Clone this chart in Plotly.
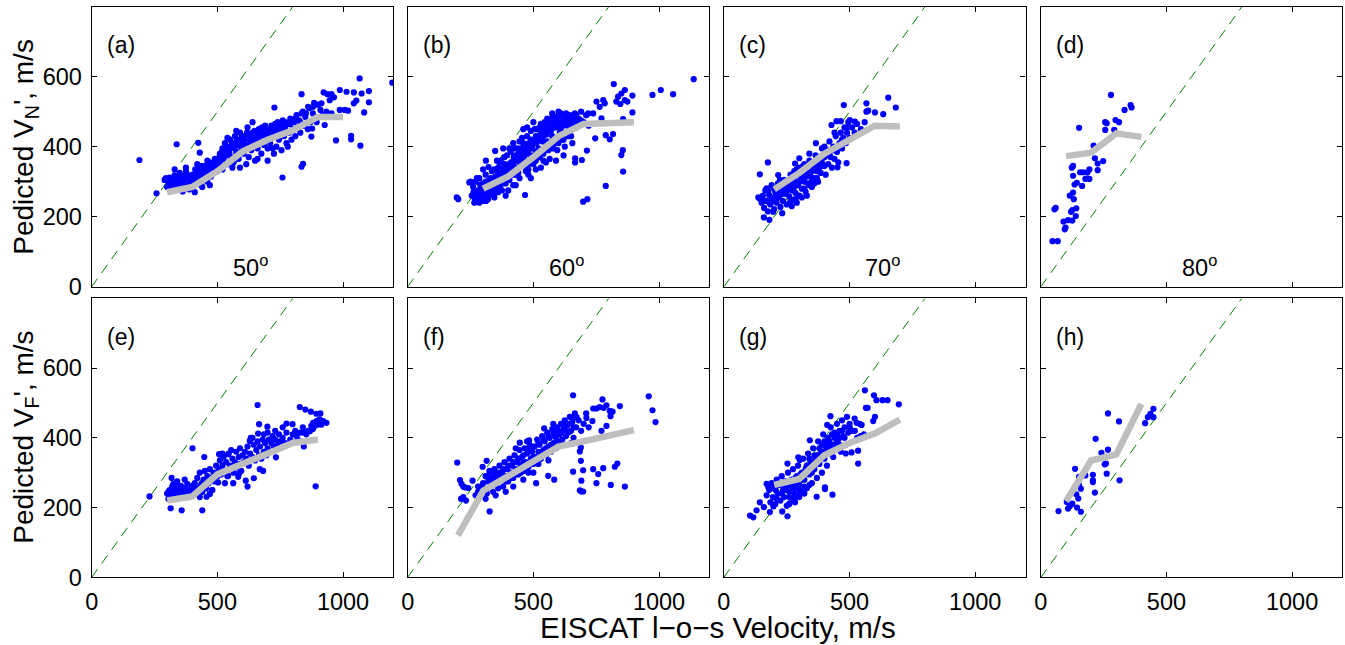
import plotly.graph_objects as go

# ---------------- data ----------------
panel_letters = ["(a)", "(b)", "(c)", "(d)", "(e)", "(f)", "(g)", "(h)"]
angle_labels = ["50", "60", "70", "80"]
x_ticks = [0, 500, 1000]
y_ticks = [0, 200, 400, 600]

# binned means (grey curves)
mean_a_x = [300, 400, 500, 600, 700, 800, 900, 1000]
mean_a_y = [270, 285, 330, 386, 420, 447, 485, 485]
mean_b_x = [300, 400, 500, 600, 700, 800, 900]
mean_b_y = [280, 315, 370, 430, 465, 467, 470]
mean_c_x = [200, 300, 400, 500, 600, 700]
mean_c_y = [278, 325, 380, 420, 460, 458]
mean_d_x = [100, 200, 300, 400]
mean_d_y = [373, 383, 438, 428]
mean_e_x = [300, 400, 500, 600, 700, 800, 900]
mean_e_y = [220, 232, 295, 325, 355, 385, 395]
mean_f_x = [200, 300, 400, 500, 600, 700, 800, 900]
mean_f_y = [120, 248, 290, 332, 375, 390, 405, 422]
mean_g_x = [200, 300, 400, 500, 600, 700]
mean_g_y = [265, 282, 350, 385, 412, 452]
mean_h_x = [100, 200, 300, 400]
mean_h_y = [218, 335, 352, 497]

pts_a = [
    (190,362),(258,267),(338,407),(424,411),(430,383),(1066,595),(1196,583),(1103,559),(1103,527),
    (1084,498),(1069,403),(1032,431),(1032,421),(972,418),(835,550),(727,512),(759,312),(835,343),
    (841,351),(1014,557),(1043,555),(987,562),(923,555),(938,550),(954,550),(1074,552),(1043,524),
    (1053,532),(1007,505),(1020,503),(987,505),(954,495),(934,500),(914,524),(947,533),(964,541),
    (927,462),(874,429),(877,452),(881,514),(861,514),(852,495),(835,495),
    (305,300),(310,312),(315,290),(320,305),(325,285),(330,318),(335,298),(340,310),(345,290),
    (350,325),(355,300),(360,282),(365,312),(370,295),(375,330),(380,305),(385,288),(390,318),
    (395,300),(300,285),(318,275),(342,278),(362,272),(388,278),(295,310),(290,305),(330,335),(375,340),
    (405,310),(410,295),(415,325),(420,300),(425,340),(430,315),(435,290),(440,330),(445,305),
    (450,345),(455,320),(460,300),(465,335),(470,355),(475,315),(480,340),(485,325),(490,365),
    (495,345),(500,330),(410,270),(440,285),(470,290),(420,350),(460,360),
    (505,360),(510,380),(515,345),(520,395),(525,365),(530,410),(535,375),(540,350),(545,390),
    (550,420),(555,370),(560,400),(565,355),(570,430),(575,385),(580,405),(585,365),(590,440),
    (595,395),(600,415),(520,335),(560,340),(590,340),(540,425),(575,445),
    (605,380),(610,430),(615,400),(620,455),(625,370),(630,420),(635,390),(640,440),(645,410),
    (650,360),(655,430),(660,395),(665,450),(670,415),(675,380),(680,440),(685,405),(690,460),
    (695,425),(700,395),(615,350),(660,365),(640,470),(700,360),
    (705,440),(710,410),(715,460),(720,395),(725,430),(730,450),(735,400),(740,470),(745,420),
    (750,445),(755,390),(760,475),(765,430),(770,455),(775,410),(780,465),(785,440),(790,480),
    (795,420),(800,450),(725,380),(780,400),
    (805,470),(810,430),(815,490),(820,455),(825,475),(830,440),(840,500),(845,460),(850,485),
    (860,450),(865,510),(870,470),(880,495),(890,480),(900,520),(895,470),(885,525),(910,505),(920,490),
    (322,295),(332,305),(348,300),(358,318),(368,302),(378,318),(392,310),(402,320),(412,335),
    (428,325),(438,345),(448,330),(458,345),(468,322),(478,352),(488,340),(498,355),(508,370),
    (518,385),(528,380),(538,400),(548,380),(558,410),(568,395),(578,420),(588,410),(598,430),
    (608,415),(618,440),(628,405),(638,425),(648,445),(658,420),(668,430),(678,455),(688,430),
    (698,445),(708,425),(718,445),(728,440),(738,455),(748,430),(758,460),(768,445),
    (310,295),(330,290),(350,310),(370,310),(390,305),(410,315),(430,330),(450,320),(470,345),
    (490,350),(510,355),(530,390),(550,395),(570,410),(590,420),(610,405),(630,435),(650,440),
    (670,445),(690,445),(710,450),(730,465),(750,460),(770,470),(790,465),(810,480),(830,470),
]

pts_b = [
    (195,255),(201,250),(245,298),(311,360),(348,388),(406,393),(467,262),(575,483),(698,243),
    (715,250),(788,288),(857,329),(850,376),(856,390),(804,421),(788,433),(817,436),(746,424),
    (713,389),(666,355),(666,367),(693,362),(820,579),(974,548),(1007,562),(1056,550),(1138,593),
    (894,498),(857,479),(874,529),(894,546),(837,543),(864,562),(850,552),(830,529),(846,522),
    (864,533),(751,529),(778,533),(784,524),(764,514),(771,481),(738,495),(718,495),
    (255,260),(260,285),(265,240),(270,300),(275,265),(280,250),(285,310),(290,275),(295,245),
    (300,295),(305,260),(310,320),(315,280),(320,250),(325,305),(330,270),(335,330),(340,290),
    (345,255),(350,315),(262,270),(288,292),(312,245),(338,262),(275,310),(300,335),(250,300),(322,342),
    (355,285),(360,340),(365,300),(370,360),(375,275),(380,320),(385,350),(390,295),(395,375),
    (400,330),(405,305),(410,385),(415,345),(420,290),(425,365),(430,320),(435,395),(440,340),
    (445,310),(450,380),(360,270),(400,275),(430,290),(380,395),(420,410),(445,415),(355,360),(390,260),
    (455,345),(460,410),(465,375),(470,330),(475,430),(480,390),(485,355),(490,445),(495,400),
    (500,365),(505,420),(510,335),(515,450),(520,395),(525,370),(530,465),(535,415),(540,380),
    (545,440),(550,355),(460,450),(480,320),(500,470),(530,340),(545,470),(510,385),(490,310),
    (555,415),(560,470),(565,395),(570,445),(575,430),(580,480),(585,410),(590,455),(595,390),
    (600,470),(605,440),(610,495),(615,420),(620,460),(625,400),(630,480),(640,445),(645,490),
    (650,430),(660,470),(665,495),(670,455),(680,480),(690,500),(700,470),(710,490),(720,460),
    (565,365),(590,360),(620,375),(655,410),(600,500),
    (265,255),(285,265),(295,280),(305,285),(318,295),(328,285),(340,310),(352,300),(362,320),
    (372,310),(382,340),(392,330),(402,350),(412,340),(422,370),(432,360),(442,380),(452,365),
    (462,390),(472,380),(482,410),(492,395),(502,420),(512,410),(522,430),(532,420),(542,450),
    (552,435),(562,450),(572,460),(582,455),(592,475),(602,460),(612,470),(622,485),(632,465),
    (642,475),(652,470),(662,485),(672,475),(345,335),(365,355),(385,370),(405,395),(425,395),
    (455,425),(475,455),(505,450),(525,455),(555,480),(575,495),(285,240),(305,245),(330,290),
    (350,270),(370,290),(390,310),(410,320),(430,340),(450,350),(470,360),(490,375),(510,360),
    (530,390),(550,400),(570,410),(590,420),(610,445),(630,430),(650,450),(420,330),(440,360),
    (460,370),(480,350),
    (280,275),(290,290),(300,275),(310,300),(320,285),(330,310),(340,300),(350,295),(360,325),
    (370,320),(380,335),(390,345),(400,340),(410,355),(420,350),(430,375),(440,370),(450,395),
    (460,385),(470,405),(480,400),(490,420),(500,410),(510,430),(520,420),(530,440),(540,430),
    (550,455),(560,445),(570,470),(580,465),(590,485),(600,480),(610,460),(620,470),(630,495),
    (640,460),(650,485),(660,455),(670,490),(680,465),(690,475),
    (300,255),(320,265),(340,275),(360,285),(380,300),(400,310),(420,320),(440,325),(460,345),
    (480,335),(500,350),(520,375),(540,360),(560,390),(580,395),(600,410),(620,420),(640,430),
]

pts_c = [
    (175,355),(143,321),(137,255),(143,251),(159,198),(181,191),(232,210),(196,214),(477,519),
    (567,524),(654,540),(684,512),(634,493),(601,498),(567,500),(574,503),(521,472),(501,476),
    (448,473),(465,473),(428,462),(488,353),(452,341),(366,410),(300,367),(283,352),(216,319),
    (223,305),(170,281),(177,274),
    (150,240),(155,260),(160,225),(165,275),(170,245),(175,215),(180,262),(185,235),(190,290),
    (195,250),(200,222),(205,270),(210,240),(215,295),(220,255),(225,228),(230,280),(235,245),
    (240,305),(245,265),(250,235),(255,290),(260,258),(265,320),(270,275),(275,248),(280,305),
    (285,268),(290,335),(295,290),(300,260),(305,315),(310,280),(315,345),(320,300),(325,272),
    (330,330),(335,295),(340,360),(345,315),(350,285),(355,345),(360,310),(365,375),(370,330),
    (375,300),(380,360),(385,325),(390,395),(395,345),(400,370),(405,320),(410,390),(415,350),
    (420,415),(425,370),(430,340),(435,400),(440,365),(445,430),(450,385),(455,355),(460,410),
    (465,440),(470,395),(475,425),(480,455),(485,410),(490,440),(495,470),(500,425),(510,455),
    (520,440),(530,465),(545,450),(560,470),
    (260,300),(280,330),(300,340),(320,350),(340,380),(290,240),(310,255),(330,260),(350,300),
    (370,310),(380,340),(400,345),(420,380),(270,230),(240,270),(220,275),(200,245),(180,240),
    (190,255),(210,260),(230,265),(250,275),(270,290),(290,300),(310,310),(330,315),(350,330),
    (370,345),(390,355),(410,375),(430,390),(450,400),(470,420),(490,455),(160,245),(200,280),
    (240,290),(280,285),(320,320),(360,355),(400,400),(440,440),(320,280),(340,290),(360,295),
    (300,300),(285,250),(265,245),
]

pts_d = [
    (46,130),(67,130),(54,221),(59,225),(95,164),(98,169),(90,186),(108,190),(125,189),(139,202),
    (120,214),(125,219),(141,224),(115,260),(128,269),(131,250),(134,292),(143,297),(164,288),
    (128,317),(128,345),(123,340),(156,327),(169,327),(185,326),(193,335),(177,308),(193,308),
    (226,333),(226,352),(215,367),(248,359),(210,403),(152,454),(256,470),(262,467),(256,448),
    (292,448),(297,476),(311,470),(333,505),(357,519),(361,512),(279,548),
]

pts_e = [
    (660,494),(828,488),(850,481),(872,475),(894,469),(910,470),(891,261),(440,192),(358,192),
    (314,198),(401,370),(448,345),(507,353),(543,353),(666,439),(699,432),(775,441),(799,439),
    (629,391),(662,412),(633,400),(620,260),(613,277),(645,284),(563,270),(530,270),(503,272),
    (543,291),(583,288),(587,298),(844,375),(733,344),(682,305),(669,310),(470,239),(457,231),
    (479,250),(318,285),(230,232),
    (874,434),(881,443),(894,448),(907,453),(921,448),(934,443),(914,438),(901,438),(887,434),
    (868,419),(854,410),(841,415),(815,405),
    (300,240),(305,225),(310,250),(315,235),(320,260),(325,230),(330,245),(335,270),(340,225),
    (345,250),(350,235),(355,262),(360,245),(365,228),(370,255),(375,240),(380,268),(385,230),
    (390,250),(395,240),(340,275),(370,280),(325,268),(398,262),
    (405,250),(410,270),(415,240),(420,285),(425,255),(430,300),(435,265),(440,245),(445,280),
    (450,305),(455,255),(460,290),(465,270),(470,310),(475,285),(480,250),(485,300),(490,275),
    (495,320),(500,290),(430,230),(470,240),
    (505,310),(510,335),(515,295),(520,320),(525,345),(530,305),(535,330),(540,290),(545,355),
    (550,320),(560,340),(565,300),(570,330),(575,360),(580,315),(585,345),(590,325),(595,305),
    (600,350),(520,355),(555,365),(590,370),
    (605,330),(610,360),(615,340),(620,375),(625,320),(630,355),(640,345),(645,380),(650,335),
    (655,365),(660,390),(665,350),(670,375),(675,340),(680,395),(685,360),(690,385),(695,350),
    (700,370),(640,400),(685,410),
    (705,395),(710,360),(715,385),(720,405),(725,375),(730,395),(740,380),(745,410),(750,390),
    (760,400),(770,385),(775,415),(790,395),(800,410),(810,420),(820,395),(830,415),(840,430),
    (860,420),(880,425),(760,430),(730,420),(700,415),
    (305,245),(312,238),(318,252),(328,240),(338,255),(348,243),(358,250),(368,238),(378,250),
    (388,245),(408,260),(418,255),(438,270),(448,262),
]

pts_f = [
    (197,329),(658,522),(775,510),(791,493),(780,486),(764,488),(751,484),(738,484),(844,491),
    (804,477),(815,475),(807,462),(959,519),(974,479),(986,445),(864,260),(808,265),(751,270),
    (758,296),(691,277),(685,249),(698,246),(691,246),(658,303),(698,307),(738,310),(778,313),
    (824,317),(834,326),(689,334),(685,361),(689,372),(583,280),(559,291),(511,270),(326,189),
    (208,279),(214,268),(228,258),(241,256),(221,260),(221,230),(212,225),(232,220),(258,277),
    (298,317),(314,334),(446,386),(483,393),(543,427),(579,440),(658,457),(672,459),(711,457),
    (735,448),(771,420),(791,434),
    (300,270),(305,250),(310,290),(315,240),(320,275),(325,305),(330,260),(335,285),(340,245),
    (345,310),(350,270),(355,295),(360,255),(365,320),(370,280),(375,300),(380,260),(385,330),
    (390,290),(395,310),(400,275),(310,225),(350,235),(390,245),(280,245),(290,260),(270,235),
    (405,340),(410,300),(415,320),(420,285),(425,350),(430,310),(435,330),(440,295),(445,365),
    (450,320),(455,345),(460,305),(465,370),(470,330),(475,355),(480,315),(485,380),(490,340),
    (495,360),(500,325),(420,260),(460,280),(500,300),(430,370),(475,390),
    (505,375),(510,345),(515,395),(520,360),(525,380),(530,340),(535,405),(540,365),(545,390),
    (550,350),(555,415),(560,375),(565,400),(570,360),(575,425),(580,385),(585,405),(590,370),
    (595,430),(600,390),(520,325),(560,335),
    (605,410),(610,440),(615,395),(620,425),(625,450),(630,405),(635,435),(640,415),(645,460),
    (650,420),(655,445),(660,400),(665,470),(670,430),(680,450),(690,420),(700,440),(710,470),
    (720,430),(610,380),(650,385),
    (320,290),(340,300),(360,300),(380,310),(400,320),(420,330),(440,340),(460,350),(480,365),
    (500,375),(520,385),(540,395),(560,405),(580,415),(600,420),(620,440),(640,440),(660,430),
    (330,270),(350,285),(370,295),(390,275),(410,285),(430,295),(450,300),(470,310),(490,325),
    (510,330),(530,350),(550,370),(570,380),(590,400),(610,415),(630,420),(300,255),(280,260),
    (320,255),(460,330),(480,300),(500,345),
]

pts_g = [
    (104,177),(117,172),(130,192),(143,215),(159,201),(183,187),(197,203),(232,189),(253,175),
    (260,211),(283,215),(170,268),(177,258),(207,249),(210,225),(253,326),(296,344),(302,336),
    (342,393),(369,231),(402,258),(402,253),(432,237),(424,462),(411,437),(561,536),(597,522),
    (607,508),(631,508),(651,508),(696,496),(565,486),(572,486),(601,460),(594,448),(534,326),
    (534,363),(508,358),(485,355),(548,437),(528,443),(521,420),(501,429),(544,405),(557,410),
    (170,235),(180,250),(185,215),(190,270),(195,230),(200,255),(205,210),(210,280),(215,240),
    (220,265),(225,220),(230,290),(235,250),(240,230),(245,275),(250,205),(255,300),(260,245),
    (265,270),(270,225),(275,310),(280,255),(285,285),(290,235),(295,320),(300,265),(305,295),
    (310,245),(315,340),(320,280),(325,310),(330,255),(335,355),(340,295),(345,325),(350,270),
    (355,370),(360,310),(365,340),(370,285),(375,390),(380,325),(385,355),(390,300),(395,410),
    (400,340),(405,375),(410,320),(415,400),(420,355),(425,430),(430,380),(435,345),(440,415),
    (445,370),(450,440),(455,395),(460,420),(465,360),(470,450),(475,405),(480,430),(485,380),
    (490,460),(495,415),(500,440),(510,420),(520,455),(530,400),(540,440),
    (250,250),(260,230),(270,260),(280,240),(290,270),(300,250),(310,280),(320,260),(330,300),
    (340,320),(350,300),(360,330),(370,350),(380,370),(390,380),(400,390),(410,360),(420,390),
    (430,410),(440,400),(450,410),(460,400),
    (230,240),(240,260),(260,265),(270,280),(280,275),(290,290),(300,285),(310,300),(320,300),
    (330,320),(340,340),(350,320),(360,350),(370,330),(380,350),(390,360),(400,360),(410,380),
    (420,370),(430,360),(440,380),(450,390),(460,380),(470,420),(480,400),(300,230),(320,240),
    (340,265),(280,220),(260,210),
]

pts_h = [
    (70,190),(108,197),(125,211),(144,200),(159,188),(149,226),(159,254),(151,266),(141,238),
    (152,288),(136,311),(177,292),(207,294),(207,273),(207,278),(215,243),(218,397),(241,357),
    (254,324),(259,326),(262,297),(267,366),(267,470),(311,447),(313,278),(415,442),(426,459),
    (436,469),(448,483),(448,459),(103,216),(115,204),
]

points = [pts_a, pts_b, pts_c, pts_d, pts_e, pts_f, pts_g, pts_h]
means = [(mean_a_x, mean_a_y), (mean_b_x, mean_b_y), (mean_c_x, mean_c_y), (mean_d_x, mean_d_y),
         (mean_e_x, mean_e_y), (mean_f_x, mean_f_y), (mean_g_x, mean_g_y), (mean_h_x, mean_h_y)]
diag = [0, 800]

# ---------------- layout ----------------
W, H = 1345, 645
col_px = [(91.7, 393.3), (407.7, 709.3), (723.9, 1025.5), (1040.9, 1342.3)]
row_px = [(6.7, 286.7), (298.3, 577.3)]
FONT = "Liberation Sans, Arial, Helvetica, sans-serif"

fig = go.Figure()
layout = dict(
    width=W, height=H, margin=dict(l=0, r=0, t=0, b=0),
    paper_bgcolor="white", plot_bgcolor="white", showlegend=False,
    font=dict(family=FONT, size=23, color="black"),
)
annotations = []

for i in range(8):
    r, c = divmod(i, 4)
    n = i + 1
    xa = "xaxis" if n == 1 else f"xaxis{n}"
    ya = "yaxis" if n == 1 else f"yaxis{n}"
    xr = "x" if n == 1 else f"x{n}"
    yr = "y" if n == 1 else f"y{n}"
    x0, x1 = col_px[c]
    y0, y1 = row_px[r]
    common = dict(showgrid=False, zeroline=False, showline=True, linecolor="black", linewidth=1.3,
                  mirror="ticks", ticks="inside", ticklen=5, tickwidth=1, tickcolor="black",
                  tickfont=dict(family=FONT, size=23.5, color="black"), fixedrange=True,
                  automargin=False)
    layout[xa] = dict(common, domain=[x0 / W, x1 / W], range=[0, 1200], anchor=yr,
                      tickvals=x_ticks, ticktext=[str(v) for v in x_ticks],
                      showticklabels=(r == 1), ticklabelstandoff=3)
    layout[ya] = dict(common, domain=[1 - y1 / H, 1 - y0 / H], range=[0, 800], anchor=xr,
                      tickvals=y_ticks, ticktext=[str(v) for v in y_ticks],
                      showticklabels=(c == 0), ticklabelstandoff=4)

    # y = x reference line
    fig.add_trace(go.Scatter(x=diag, y=diag, mode="lines", xaxis=xr, yaxis=yr,
                             line=dict(color="#008000", width=1, dash="10px,7px"),
                             hoverinfo="skip", cliponaxis=True))
    pts = points[i]
    fig.add_trace(go.Scatter(x=[p[0] for p in pts], y=[p[1] for p in pts], mode="markers",
                             xaxis=xr, yaxis=yr,
                             marker=dict(color="#0000ff", size=6.2, line=dict(width=0))))
    mx, my = means[i]
    fig.add_trace(go.Scatter(x=mx, y=my, mode="lines", xaxis=xr, yaxis=yr,
                             line=dict(color="#bebebe", width=6.5)))

    annotations.append(dict(x=53, y=690, xref=xr, yref=yr, text=panel_letters[i],
                            showarrow=False, xanchor="left", yanchor="middle",
                            font=dict(family=FONT, size=23, color="black")))
    if r == 0:
        annotations.append(dict(x=630, y=58, xref=xr, yref=yr,
                                text=angle_labels[c] + "<sup>o</sup>",
                                showarrow=False, xanchor="center", yanchor="middle",
                                font=dict(family=FONT, size=23.5, color="black")))

# axis titles
annotations.append(dict(x=26 / W, y=1 - 146.7 / H, xref="paper", yref="paper",
                        text="Pedicted V<sub>N</sub>', m/s", textangle=-90, showarrow=False,
                        xanchor="center", yanchor="middle",
                        font=dict(family=FONT, size=28, color="black")))
annotations.append(dict(x=26 / W, y=1 - 437.8 / H, xref="paper", yref="paper",
                        text="Pedicted V<sub>F</sub>', m/s", textangle=-90, showarrow=False,
                        xanchor="center", yanchor="middle",
                        font=dict(family=FONT, size=28, color="black")))
annotations.append(dict(x=718 / W, y=1 - 627 / H, xref="paper", yref="paper",
                        text="EISCAT l\u2212o\u2212s Velocity, m/s", showarrow=False,
                        xanchor="center", yanchor="middle",
                        font=dict(family=FONT, size=29.5, color="black")))
layout["annotations"] = annotations
fig.update_layout(**layout)
fig.write_html(
    "out.html",
    config={"displayModeBar": False},
    post_script="document.body.style.margin='0';document.body.style.overflow='hidden';"
                "document.documentElement.style.overflow='hidden';",
)
